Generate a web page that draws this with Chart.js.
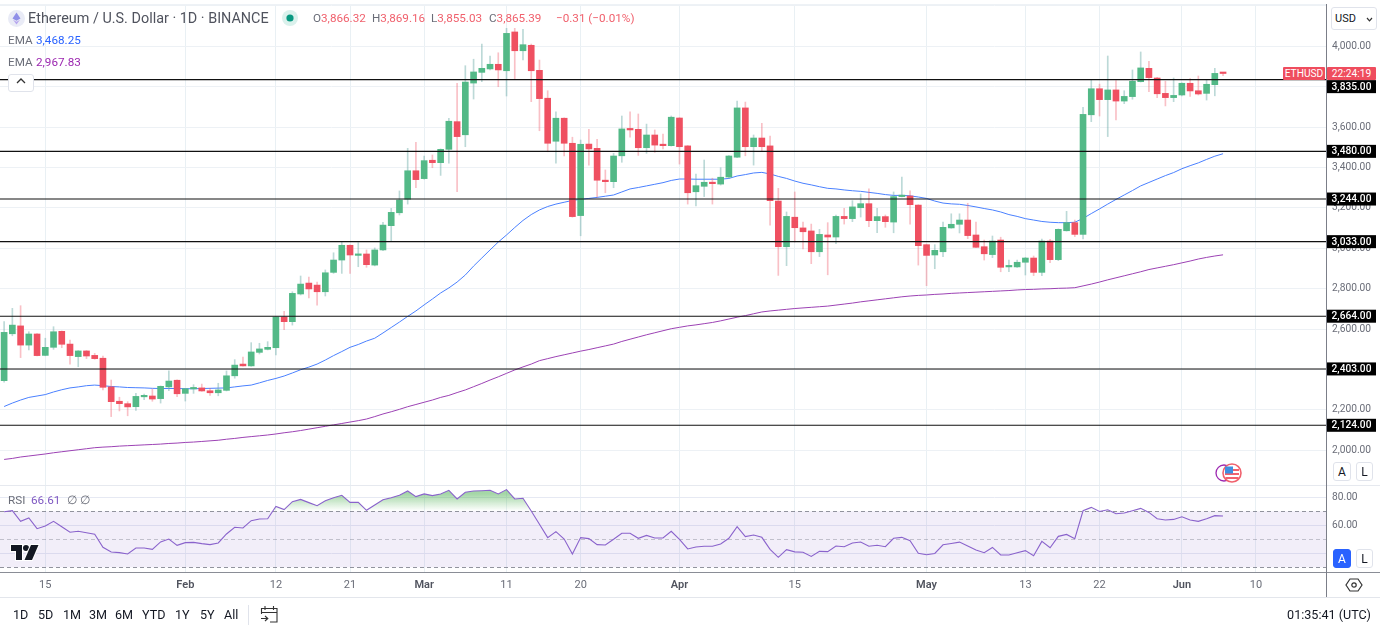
<!DOCTYPE html>
<html>
<head>
<meta charset="utf-8">
<title>Ethereum / U.S. Dollar</title>
<script src="https://cdn.jsdelivr.net/npm/chart.js@4/dist/chart.umd.js"></script>
<style>
    html, body { margin: 0; padding: 0; background: #fff; }
    body { width: 1380px; height: 628px; position: relative; overflow: hidden; font-family: Roboto, sans-serif; color: #131722; }
    canvas { position: absolute; left: 0; display: block; }
    #main-chart { top: 4px; }
    #rsi-chart { top: 486px; }
    .abs { position: absolute; white-space: nowrap; }
    .rule { position: absolute; }
    .legend-row { font-size: 11.7px; color: #6a6d78; line-height: 16px; }
    .title { font-size: 14.4px; color: #50535e; line-height: 18px; }
    .red { color: #f0616d; }
    .box { position: absolute; background: #fff; border: 1px solid #e0e3eb; border-radius: 3px; box-sizing: border-box; text-align: center; font-size: 12px; }
    .range { font-size: 12.6px; color: #131722; line-height: 16px; }
</style>
</head>
<body>
<canvas id="main-chart" width="1380" height="482"></canvas>
<canvas id="rsi-chart" width="1380" height="112"></canvas>

<div class="rule" style="left:0;top:485px;width:1380px;height:1px;background:#e6e9ef"></div>
<div class="rule" style="left:0;top:572px;width:1380px;height:1px;background:#8a8d96"></div>
<div class="rule" style="left:0;top:597px;width:1380px;height:1px;background:#e3e6ec"></div>
<div class="rule" style="left:1326px;top:4px;width:1px;height:593px;background:#7b7e88"></div>
<div class="rule" style="left:0;top:4px;width:1326px;height:1px;background:#eef2f6"></div>

<svg class="abs" style="left:8px;top:10px" width="17" height="17" viewBox="0 0 17 17">
    <circle cx="8.5" cy="8.5" r="8.5" fill="#e9ebf6"/>
    <polygon points="8.5,2.5 12.5,8.6 8.5,10.8 4.5,8.6" fill="#8f8fe8"/>
    <polygon points="8.5,11.8 12,9.8 8.5,14.6 5,9.8" fill="#b7a6ee"/>
</svg>
<div class="abs title" style="left:28px;top:10px">Ethereum / U.S. Dollar · 1D · BINANCE</div>
<svg class="abs" style="left:282px;top:10px" width="16" height="16" viewBox="0 0 16 16">
    <circle cx="8" cy="8" r="8" fill="#daf1ec"/>
    <circle cx="8" cy="8" r="3.6" fill="#089981"/>
</svg>
<div class="abs legend-row" style="left:313px;top:10px">O<span class="red">3,866.32</span></div>
<div class="abs legend-row" style="left:372px;top:10px">H<span class="red">3,869.16</span></div>
<div class="abs legend-row" style="left:431px;top:10px">L<span class="red">3,855.03</span></div>
<div class="abs legend-row" style="left:489px;top:10px">C<span class="red">3,865.39</span></div>
<div class="abs legend-row" style="left:556px;top:10px"><span class="red">−0.31 (−0.01%)</span></div>
<div class="abs legend-row" style="left:8px;top:32px">EMA</div>
<div class="abs legend-row" style="left:36px;top:32px;color:#2962ff">3,468.25</div>
<div class="abs legend-row" style="left:8px;top:54px">EMA</div>
<div class="abs legend-row" style="left:36px;top:54px;color:#9c27b0">2,967.83</div>
<div class="box" style="left:8px;top:74px;width:26px;height:18px">
    <svg width="10" height="6" viewBox="0 0 10 6" style="position:absolute;left:7px;top:3px"><path d="M1 5 L5 1 L9 5" fill="none" stroke="#333" stroke-width="1.3"/></svg>
</div>

<div class="box" style="left:1331px;top:7px;width:46px;height:23px;text-align:left;padding-left:3px;line-height:21px;font-size:11px;color:#131722">USD
    <svg width="7" height="5" viewBox="0 0 7 5" style="position:absolute;right:3px;top:9px"><path d="M1 1 L3.5 3.8 L6 1" fill="none" stroke="#333" stroke-width="1.2"/></svg>
</div>
<div class="abs" style="left:1283px;top:67px;width:42px;height:13px;background:#ef4d5e;color:#fff;font-size:10.2px;line-height:13px;text-align:center;border-radius:1px">ETHUSD</div>
<div class="abs" style="left:1327px;top:67px;width:49px;height:13px;background:#ef4d5e;color:#fff;font-size:10.2px;line-height:13px;text-align:center;border-radius:1px">22:24:19</div>

<svg class="abs" style="left:1214px;top:462px" width="30" height="22" viewBox="0 0 30 22">
    <circle cx="10" cy="11" r="8" fill="#fff" stroke="#9c27b0" stroke-width="1.3"/>
    <circle cx="18" cy="11" r="9" fill="#fff" stroke="#f0616d" stroke-width="1.6"/>
    <rect x="11" y="7" width="14" height="2" fill="#f0616d"/>
    <rect x="11" y="11" width="14" height="2" fill="#f0616d"/>
    <rect x="11.5" y="15" width="13" height="2" fill="#f0616d"/>
    <rect x="11" y="4.5" width="8" height="7" fill="#3f8fe0"/>
</svg>
<div class="box" style="left:1333px;top:462px;width:18px;height:19px;line-height:18px">A</div>
<div class="box" style="left:1356px;top:462px;width:17px;height:19px;line-height:18px">L</div>
<div class="box" style="left:1333px;top:549px;width:18px;height:19px;line-height:18px;background:#2962ff;border-color:#2962ff;color:#fff">A</div>
<div class="box" style="left:1356px;top:549px;width:17px;height:19px;line-height:18px">L</div>

<div class="abs legend-row" style="left:8px;top:492px">RSI</div>
<div class="abs legend-row" style="left:31px;top:492px;color:#7e57c2">66.61</div>
<div class="abs legend-row" style="left:67px;top:492px">∅</div>
<div class="abs legend-row" style="left:80px;top:492px">∅</div>
<svg class="abs" style="left:9px;top:543px" width="32" height="20" viewBox="0 0 32 20">
    <g fill="#131722" stroke="#fff" stroke-width="2" paint-order="stroke">
        <path d="M2 2 H13 V17 H7 V8 H2 Z"/>
        <circle cx="17" cy="5" r="3"/>
        <path d="M22 2 H29.5 L23 17 H15.5 Z"/>
    </g>
</svg>

<svg class="abs" style="left:1345px;top:576px" width="18" height="18" viewBox="0 0 18 18">
    <path d="M5 3 H13 L17 9 L13 15 H5 L1 9 Z" fill="none" stroke="#333" stroke-width="1.2"/>
    <circle cx="9" cy="9" r="2.2" fill="none" stroke="#333" stroke-width="1.2"/>
</svg>

<div class="abs range" style="left:13px;top:607px">1D</div>
<div class="abs range" style="left:38px;top:607px">5D</div>
<div class="abs range" style="left:63px;top:607px">1M</div>
<div class="abs range" style="left:89px;top:607px">3M</div>
<div class="abs range" style="left:115px;top:607px">6M</div>
<div class="abs range" style="left:142px;top:607px">YTD</div>
<div class="abs range" style="left:175px;top:607px">1Y</div>
<div class="abs range" style="left:200px;top:607px">5Y</div>
<div class="abs range" style="left:224px;top:607px">All</div>
<div class="rule" style="left:248px;top:605px;width:1px;height:20px;background:#e0e3eb"></div>
<svg class="abs" style="left:260px;top:605px" width="19" height="19" viewBox="0 0 19 19">
    <path d="M1.5 9 V3.5 H17 V17 H10 M1.5 7.5 H17 M5 1 V5 M13.5 1 V5 M1 13.5 H7.5 M5 11 L7.8 13.5 L5 16" fill="none" stroke="#333" stroke-width="1.1"/>
</svg>
<div class="abs range" style="right:9px;top:607px">01:35:41 (UTC)</div>

<script>
const categories = [
    'Jan 10','Jan 11','Jan 12','Jan 13','Jan 14','Jan 15','Jan 16','Jan 17','Jan 18','Jan 19','Jan 20','Jan 21','Jan 22','Jan 23','Jan 24','Jan 25','Jan 26','Jan 27','Jan 28','Jan 29','Jan 30','Jan 31',
    'Feb 1','Feb 2','Feb 3','Feb 4','Feb 5','Feb 6','Feb 7','Feb 8','Feb 9','Feb 10','Feb 11','Feb 12','Feb 13','Feb 14','Feb 15','Feb 16','Feb 17','Feb 18','Feb 19','Feb 20','Feb 21','Feb 22','Feb 23','Feb 24','Feb 25','Feb 26','Feb 27','Feb 28','Feb 29',
    'Mar 1','Mar 2','Mar 3','Mar 4','Mar 5','Mar 6','Mar 7','Mar 8','Mar 9','Mar 10','Mar 11','Mar 12','Mar 13','Mar 14','Mar 15','Mar 16','Mar 17','Mar 18','Mar 19','Mar 20','Mar 21','Mar 22','Mar 23','Mar 24','Mar 25','Mar 26','Mar 27','Mar 28','Mar 29','Mar 30','Mar 31',
    'Apr 1','Apr 2','Apr 3','Apr 4','Apr 5','Apr 6','Apr 7','Apr 8','Apr 9','Apr 10','Apr 11','Apr 12','Apr 13','Apr 14','Apr 15','Apr 16','Apr 17','Apr 18','Apr 19','Apr 20','Apr 21','Apr 22','Apr 23','Apr 24','Apr 25','Apr 26','Apr 27','Apr 28','Apr 29','Apr 30',
    'May 1','May 2','May 3','May 4','May 5','May 6','May 7','May 8','May 9','May 10','May 11','May 12','May 13','May 14','May 15','May 16','May 17','May 18','May 19','May 20','May 21','May 22','May 23','May 24','May 25','May 26','May 27','May 28','May 29','May 30','May 31',
    'Jun 1','Jun 2','Jun 3','Jun 4','Jun 5','Jun 6','Jun 7','Jun 8','Jun 9','Jun 10','Jun 11','Jun 12','Jun 13','Jun 14','Jun 15','Jun 16','Jun 17','Jun 18'
];

const opens = [
    2345,2577,2616,2521,2576,2470,2510,2589,2526,2464,
    2492,2470,2456,2314,2243,2231,2216,2265,2269,2256,
    2314,2347,2282,2304,2309,2295,2285,2297,2369,2427,
    2418,2485,2500,2508,2660,2637,2774,2828,2818,2785,
    2881,2942,3015,2965,2972,2917,2992,3112,3176,3243,
    3384,3345,3436,3424,3490,3627,3562,3818,3871,3888,
    3911,3879,4071,3978,4005,3881,3743,3530,3644,3520,
    3162,3516,3495,3333,3330,3458,3591,3589,3498,3561,
    3513,3508,3645,3507,3280,3307,3323,3318,3353,3451,
    3695,3503,3546,3507,3234,3008,3154,3101,3086,2983,
    3066,3056,3158,3147,3201,3221,3137,3157,3130,3256,
    3259,3214,3018,2967,2983,3101,3119,3140,3066,3008,
    2969,3041,2908,2908,2931,2952,2881,3036,2944,3087,
    3127,3069,3661,3790,3736,3784,3729,3751,3825,3891,
    3843,3767,3746,3759,3817,3780,3767,3810,3866.32
];
const highs = [
    2637,2703,2716,2587,2578,2555,2612,2591,2546,2494,
    2494,2480,2467,2348,2263,2241,2282,2279,2304,2319,
    2393,2349,2307,2325,2328,2307,2332,2393,2449,2462,
    2533,2530,2538,2662,2688,2785,2863,2858,2833,2893,
    2978,3030,3017,3028,2992,3002,3129,3198,3284,3495,
    3525,3457,3462,3492,3644,3817,3904,3936,4011,3952,
    3968,4089,4089,4084,4011,3932,3780,3676,3646,3550,
    3536,3589,3540,3388,3470,3655,3676,3665,3615,3586,
    3566,3655,3647,3509,3368,3437,3347,3399,3459,3729,
    3724,3561,3619,3556,3297,3180,3279,3130,3120,3094,
    3127,3165,3198,3236,3269,3295,3198,3165,3279,3353,
    3285,3216,3021,3018,3130,3171,3171,3223,3130,3041,
    3061,3055,2942,2942,2955,2962,3046,3045,3096,3183,
    3140,3698,3833,3813,3952,3830,3780,3883,3972,3926,
    3847,3827,3843,3819,3840,3853,3833,3891,3869.16
];
const lows = [
    2338,2567,2459,2497,2467,2468,2500,2508,2426,2414,
    2454,2451,2299,2167,2195,2171,2198,2251,2243,2234,
    2295,2266,2244,2282,2292,2272,2270,2294,2357,2417,
    2416,2477,2497,2472,2597,2620,2769,2754,2719,2764,
    2876,2876,2876,2909,2906,2913,2988,3038,3165,3219,
    3300,3342,3399,3361,3421,3280,3503,3739,3825,3883,
    3800,3754,3840,3932,3726,3582,3478,3421,3458,3154,
    3062,3411,3253,3275,3300,3426,3550,3460,3470,3475,
    3492,3506,3417,3219,3210,3256,3219,3313,3347,3449,
    3458,3412,3483,3115,2866,2914,3031,2997,2924,2959,
    2869,3023,3120,3132,3155,3107,3077,3104,3077,3254,
    3120,2917,2815,2899,2959,3099,3076,3048,3003,2942,
    2954,2884,2884,2906,2868,2865,2865,2929,2939,3085,
    3058,3046,3627,3655,3553,3635,3716,3738,3823,3775,
    3746,3705,3726,3754,3752,3759,3734,3755,3855.03
];
const closes = [
    2584,2620,2521,2576,2469,2510,2587,2525,2469,2492,
    2467,2454,2312,2241,2231,2215,2267,2267,2254,2317,
    2343,2280,2305,2306,2294,2285,2299,2369,2422,2418,
    2487,2502,2510,2660,2637,2777,2823,2799,2785,2879,
    2942,3015,2967,2970,2919,2992,3115,3178,3239,3384,
    3340,3434,3424,3490,3629,3553,3823,3873,3891,3911,
    3883,4064,3978,4008,3879,3741,3520,3644,3520,3157,
    3515,3492,3337,3330,3457,3591,3586,3498,3561,3511,
    3508,3649,3503,3275,3310,3327,3320,3352,3457,3695,
    3503,3546,3503,3236,3008,3158,3102,3082,2983,3069,
    3056,3158,3147,3205,3221,3137,3157,3132,3256,3262,
    3216,3013,2965,2990,3104,3119,3140,3063,3005,2973,
    3036,2906,2913,2931,2952,2881,3036,2944,3094,3127,
    3069,3663,3790,3736,3784,3729,3752,3827,3893,3845,
    3765,3746,3757,3817,3779,3764,3812,3866,3865.39
];

const emaFast = [
    2217,2234,2249,2262,2269,2276,2289,2300,2309,2314,
    2320,2323,2320,2316,2314,2311,2310,2309,2307,2306,
    2306,2306,2305,2305,2306,2307,2308,2309,2314,2319,
    2323,2334,2346,2356,2368,2383,2399,2412,2427,2447,
    2469,2489,2510,2524,2541,2555,2581,2608,2635,2663,
    2690,2720,2749,2779,2804,2833,2868,2912,2952,2992,
    3031,3066,3103,3138,3167,3190,3207,3219,3228,3237,
    3243,3247,3252,3258,3264,3279,3294,3301,3309,3317,
    3325,3336,3343,3343,3342,3342,3342,3342,3346,3358,
    3365,3373,3376,3368,3356,3346,3333,3322,3314,3305,
    3297,3294,3289,3285,3282,3277,3272,3266,3262,3262,
    3260,3254,3247,3234,3224,3220,3218,3212,3205,3197,
    3190,3180,3167,3158,3147,3140,3133,3129,3127,3127,
    3129,3148,3172,3195,3219,3242,3264,3286,3309,3326,
    3343,3360,3375,3394,3409,3423,3440,3456,3468.25
];
const emaSlow = [
    1955,1960,1967,1972,1977,1982,1988,1993,1998,2003,
    2008,2013,2016,2018,2021,2023,2025,2027,2029,2031,
    2034,2036,2039,2041,2044,2047,2050,2055,2059,2064,
    2068,2072,2076,2081,2087,2092,2098,2105,2112,2119,
    2126,2133,2140,2147,2155,2167,2180,2191,2203,2216,
    2227,2238,2249,2262,2272,2286,2299,2315,2331,2348,
    2364,2381,2398,2413,2427,2444,2454,2464,2473,2482,
    2491,2499,2508,2517,2526,2539,2550,2561,2572,2582,
    2592,2602,2609,2616,2621,2627,2633,2641,2650,2659,
    2667,2676,2685,2690,2694,2698,2702,2705,2708,2711,
    2714,2719,2724,2729,2735,2740,2745,2750,2755,2760,
    2764,2767,2769,2772,2774,2777,2779,2781,2783,2785,
    2787,2789,2791,2794,2796,2797,2799,2800,2802,2803,
    2805,2814,2823,2833,2844,2854,2864,2874,2884,2895,
    2903,2911,2919,2928,2937,2947,2955,2962,2967.83
];
const rsiValues = [
    69.7,70.5,62.8,65.2,57.6,59.5,62.8,59,55,55.7,
    54.7,53.6,44.3,40.9,40.5,39.5,43.8,43.8,42.8,48.1,
    50.2,45.7,47.6,47.8,46.9,46.2,47.4,53.8,58.6,58.1,
    63.3,64.5,64.7,73.5,71.2,76.9,78.5,76.2,74,77.6,
    79.7,81.4,76.4,76.4,70.7,74.5,78.3,79.7,81.4,84.5,
    80.5,82.4,81.2,82.4,85,78.8,83.6,84.5,84.7,85,
    82.4,85.5,78.8,79.3,70.2,60.7,51.2,55.5,50.2,39.5,
    51.2,50.5,46.2,45.9,50,54.3,54.3,50.7,52.8,50.9,
    50.9,55.7,50,43.1,44.5,45,45,46.6,50.7,59,
    51.9,53.1,51.4,42.8,37.1,42.6,41,40.7,37.8,41.4,
    41.2,45.2,44.7,47.4,48.1,45,45.7,44.7,50.7,51.4,
    49,40,39,39.9,46.1,47,48,45.2,42.3,40.4,
    44.2,38.8,38.8,40.4,41.9,38.3,48.5,44,52.1,53.5,
    50.4,70.4,72.8,69.9,71.1,68.3,68.8,70.4,72.1,69.2,
    64.7,63.8,64.2,66.1,63.8,62.8,64.7,66.9,66.61
];

const levels = [3835, 3480, 3244, 3033, 2664, 2403, 2124];
const priceTicks = [4200, 4000, 3800, 3600, 3400, 3200, 3000, 2800, 2600, 2400, 2200, 2000];
const rsiTicks = [80, 60, 40];
const rsiBands = [70, 50, 30];
const tickDates = ['Jan 15', 'Feb 1', 'Feb 12', 'Feb 21', 'Mar 1', 'Mar 11', 'Mar 20', 'Apr 1', 'Apr 15', 'May 1', 'May 13', 'May 22', 'Jun 1', 'Jun 10'];
const tickLabels = ['15', 'Feb', '12', '21', 'Mar', '11', '20', 'Apr', '15', 'May', '13', '22', 'Jun', '10'];

const UP = '#53b987';
const DOWN = '#ef5061';
const UP_WICK = 'rgba(96,165,160,0.42)';
const DOWN_WICK = 'rgba(239,80,97,0.36)';
const GRID = '#e9f0f4';
const AXIS_FONT = 'Roboto, sans-serif';

const money = v => v.toLocaleString('en-US', { minimumFractionDigits: 2, maximumFractionDigits: 2 });
const isUp = ctx => closes[ctx.dataIndex] >= opens[ctx.dataIndex];

// no margin for overhanging labels, the panes have to fill their canvas exactly
function noPadding(scale) {
    scale.paddingTop = 0;
    scale.paddingBottom = 0;
    scale.paddingLeft = 0;
    scale.paddingRight = 0;
}

// only the labelled dates get a gridline
function setDateTicks(scale) {
    scale.ticks = tickDates.map(d => ({ value: categories.indexOf(d) }));
}

function dateScale(showLabels) {
    return {
        offset: true,
        grid: { color: GRID, offset: false, drawTicks: false },
        border: { display: false },
        afterBuildTicks: setDateTicks,
        afterFit: scale => {
            scale.height = showLabels ? 25 : 0;
            noPadding(scale);
        },
        ticks: {
            display: showLabels,
            autoSkip: false,
            maxRotation: 0,
            padding: 6,
            color: ctx => /[a-z]/.test(ctx.tick.label) ? '#50535e' : '#6a6d78',
            font: ctx => ({ family: AXIS_FONT, size: 11, weight: /[a-z]/.test(ctx.tick.label) ? '600' : '400' }),
            callback: function (value) {
                return tickLabels[tickDates.indexOf(categories[value])];
            }
        }
    };
}

const levelLines = {
    id: 'levelLines',
    afterDatasetsDraw(chart) {
        const { ctx, chartArea, scales } = chart;
        ctx.save();
        ctx.strokeStyle = '#111';
        ctx.lineWidth = 1.1;
        levels.forEach(level => {
            const y = scales.y.getPixelForValue(level);
            ctx.beginPath();
            ctx.moveTo(chartArea.left, y);
            ctx.lineTo(chartArea.right, y);
            ctx.stroke();
        });
        ctx.restore();
    },
    afterDraw(chart) {
        const { ctx, scales } = chart;
        ctx.save();
        ctx.font = '500 10.2px ' + AXIS_FONT;
        ctx.textAlign = 'center';
        ctx.textBaseline = 'middle';
        levels.forEach((level, i) => {
            // the top tag is pushed down by the symbol tag above it
            const y = scales.y.getPixelForValue(level) + (i === 0 ? 7 : 0);
            ctx.fillStyle = '#000';
            ctx.fillRect(1327, y - 6.5, 49, 13);
            ctx.fillStyle = '#fff';
            ctx.fillText(money(level), 1351.5, y + 0.5);
        });
        ctx.restore();
    }
};

const rsiBand = {
    id: 'rsiBand',
    beforeDatasetsDraw(chart) {
        const { ctx, chartArea, scales } = chart;
        const top = scales.y.getPixelForValue(rsiBands[0]);
        const bottom = scales.y.getPixelForValue(rsiBands[2]);
        ctx.save();
        ctx.fillStyle = 'rgba(126,87,194,0.1)';
        ctx.fillRect(chartArea.left, top, chartArea.right - chartArea.left, bottom - top);
        ctx.setLineDash([4, 3]);
        rsiBands.forEach((band, i) => {
            const y = Math.round(scales.y.getPixelForValue(band)) + 0.5;
            ctx.strokeStyle = i === 1 ? 'rgba(120,123,134,0.4)' : 'rgba(120,123,134,0.8)';
            ctx.beginPath();
            ctx.moveTo(chartArea.left, y);
            ctx.lineTo(chartArea.right, y);
            ctx.stroke();
        });
        ctx.restore();
    }
};

document.addEventListener('DOMContentLoaded', () => {
    new Chart(document.getElementById('main-chart'), {
        type: 'bar',
        plugins: [levelLines],
        data: {
            labels: categories,
            datasets: [
                { type: 'line', data: emaFast, borderColor: '#4a80ff', borderWidth: 1, pointRadius: 0, order: 4 },
                { type: 'line', data: emaSlow, borderColor: '#9c42b4', borderWidth: 1, pointRadius: 0, order: 3 },
                {
                    data: lows.map((low, i) => [low, highs[i]]),
                    barThickness: 1,
                    grouped: false,
                    backgroundColor: ctx => isUp(ctx) ? UP_WICK : DOWN_WICK,
                    order: 2
                },
                {
                    data: opens.map((open, i) => [open, closes[i]]),
                    barThickness: 6,
                    grouped: false,
                    minBarLength: 1.5,
                    backgroundColor: ctx => isUp(ctx) ? UP : DOWN,
                    order: 1
                }
            ]
        },
        options: {
            responsive: false,
            animation: false,
            events: [],
            layout: { padding: 0 },
            plugins: { legend: { display: false }, tooltip: { enabled: false } },
            scales: {
                x: dateScale(false),
                y: {
                    position: 'right',
                    min: 1823.5,
                    max: 4209.4,
                    grid: { color: '#edf1f5', drawTicks: false },
                    border: { display: false },
                    afterBuildTicks: scale => { scale.ticks = priceTicks.map(value => ({ value })); },
                    afterFit: scale => {
                        scale.width = 54;
                        noPadding(scale);
                    },
                    ticks: {
                        padding: 6,
                        color: '#6a6d78',
                        font: { family: AXIS_FONT, size: 10.2 },
                        callback: value => value === priceTicks[0] ? '' : money(value)
                    }
                }
            }
        }
    });

    const rsiCanvas = document.getElementById('rsi-chart');
    const overbought = rsiCanvas.getContext('2d').createLinearGradient(0, 8, 0, 25);
    overbought.addColorStop(0, 'rgba(76,175,80,0.5)');
    overbought.addColorStop(1, 'rgba(76,175,80,0)');

    new Chart(rsiCanvas, {
        type: 'line',
        plugins: [rsiBand],
        data: {
            labels: categories,
            datasets: [{
                data: rsiValues,
                borderColor: '#8a63cc',
                borderWidth: 1.1,
                pointRadius: 0,
                fill: { target: { value: rsiBands[0] }, above: overbought, below: 'transparent' }
            }]
        },
        options: {
            responsive: false,
            animation: false,
            events: [],
            layout: { padding: 0 },
            plugins: { legend: { display: false }, tooltip: { enabled: false } },
            scales: {
                x: dateScale(true),
                y: {
                    position: 'right',
                    min: 25.93,
                    max: 88.07,
                    grid: { color: '#e6e9f3', drawTicks: false },
                    border: { display: false },
                    afterBuildTicks: scale => { scale.ticks = rsiTicks.map(value => ({ value })); },
                    afterFit: scale => {
                        scale.width = 54;
                        noPadding(scale);
                    },
                    ticks: {
                        padding: 6,
                        color: '#6a6d78',
                        font: { family: AXIS_FONT, size: 10.2 },
                        callback: value => value === rsiTicks[2] ? '' : money(value)
                    }
                }
            }
        }
    });
});
</script>
</body>
</html>
